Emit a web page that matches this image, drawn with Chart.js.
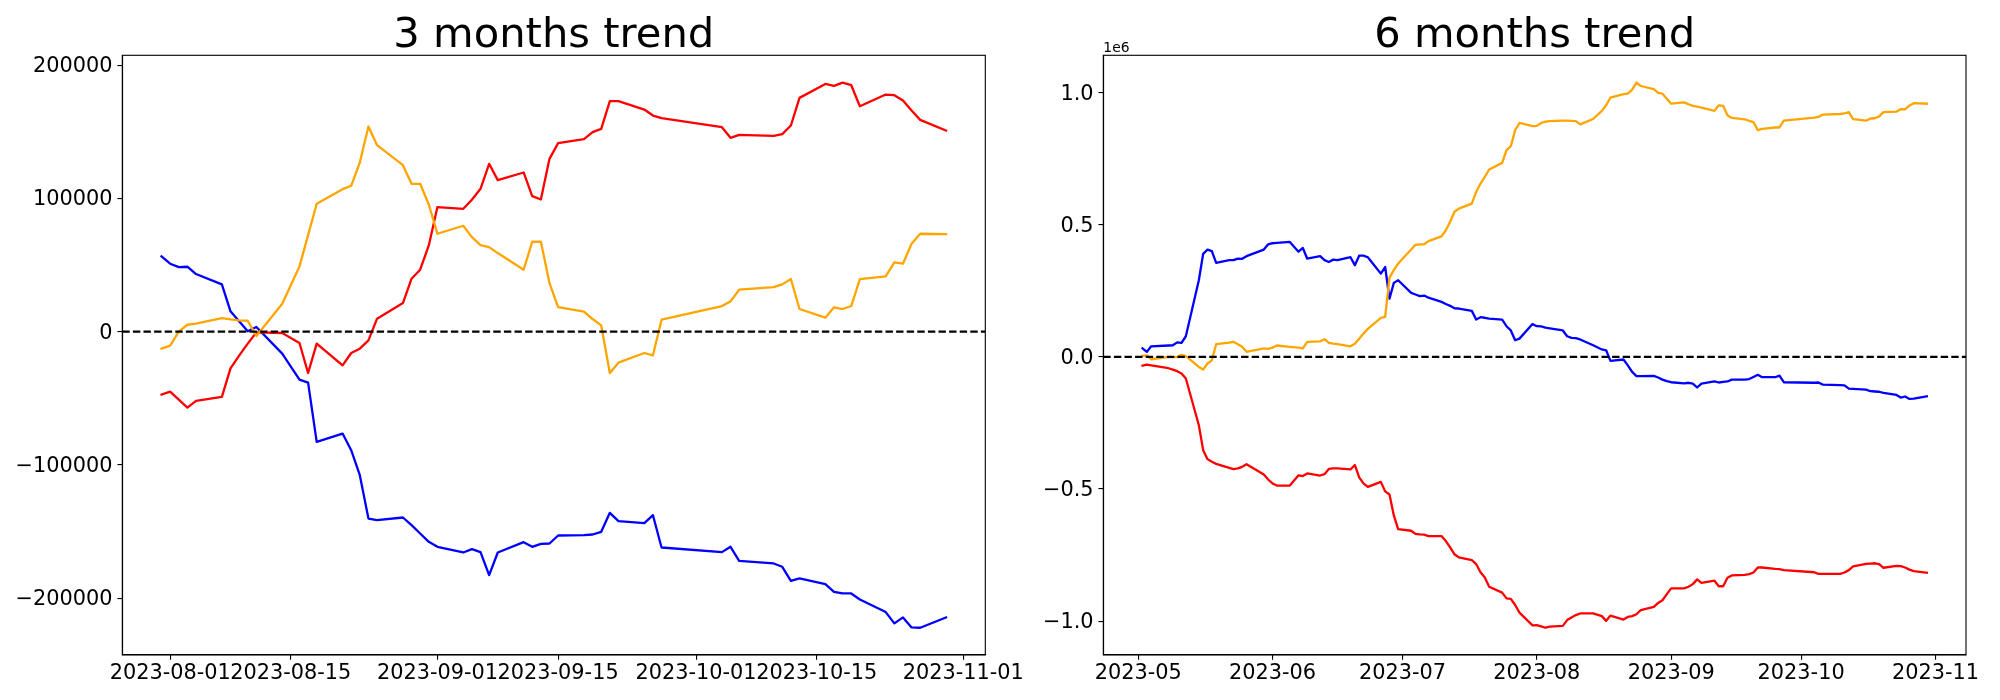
<!DOCTYPE html>
<html><head><meta charset="utf-8">
<script src="https://cdn.jsdelivr.net/npm/chart.js@4.4.0/dist/chart.umd.min.js"></script>
<style>
html,body{margin:0;padding:0;background:#fff;}
#wrap{position:relative;width:2000px;height:700px;overflow:hidden;background:#fff;}
canvas{position:absolute;top:0;}
</style></head><body>
<div id="wrap">
<canvas id="c6" width="1000" height="700" style="left:1000px"></canvas>
<canvas id="c3" width="1060" height="700" style="left:0"></canvas>
</div>
<script>
// ---------- 3 months ----------
const title3 = '3 months trend';
const dates3 = ['2023-07-31','2023-08-01','2023-08-02','2023-08-03','2023-08-04','2023-08-07','2023-08-08','2023-08-09','2023-08-10','2023-08-11',
'2023-08-14','2023-08-16','2023-08-17','2023-08-18','2023-08-21','2023-08-22','2023-08-23','2023-08-24','2023-08-25','2023-08-28',
'2023-08-29','2023-08-30','2023-08-31','2023-09-01','2023-09-04','2023-09-05','2023-09-06','2023-09-07','2023-09-08','2023-09-11',
'2023-09-12','2023-09-13','2023-09-14','2023-09-15','2023-09-18','2023-09-19','2023-09-20','2023-09-21','2023-09-22','2023-09-25',
'2023-09-26','2023-09-27','2023-10-04','2023-10-05','2023-10-06','2023-10-10','2023-10-11','2023-10-12','2023-10-13','2023-10-16',
'2023-10-17','2023-10-18','2023-10-19','2023-10-20','2023-10-23','2023-10-24','2023-10-25','2023-10-26','2023-10-27','2023-10-30'];
const blue3 = [56500,51000,48500,48750,43250,35500,15250,7750,250,3500,
-16500,-36000,-38250,-82750,-76500,-89000,-107750,-140250,-141500,-139500,
-145250,-151500,-157750,-161500,-165750,-163250,-165500,-182750,-165750,-158000,
-161500,-159250,-159000,-153000,-152750,-152250,-150250,-136000,-142250,-143750,
-137750,-162000,-165500,-161500,-172000,-174000,-176500,-187000,-185250,-189500,
-195250,-196500,-196500,-201000,-210500,-219000,-214500,-222000,-222250,-214500];
const orange3 = [-12750,-10500,0,5200,6000,10200,9200,8500,8200,-3200,
21000,49000,72500,96000,107000,109500,127000,154000,140000,125000,
111000,111000,95500,73500,79500,71000,65000,63500,59000,46500,
67500,67500,36500,18500,15000,9500,4750,-31000,-23250,-16000,
-17750,9000,19250,22750,31500,33500,35500,39500,17000,10500,
18250,17000,19250,39500,41500,52000,51000,66000,73500,73250];
const red3 = [-47250,-45000,-51000,-57000,-52000,-49000,-27500,-18000,-9000,-500,
-1000,-8500,-31000,-9000,-25250,-16000,-12750,-6500,9750,21500,
39750,46500,64750,93500,92250,99000,107250,126000,113750,119500,
101750,99250,129750,141500,144500,149750,152250,173000,173000,166750,
162250,160250,153500,145500,147750,147000,148250,154750,175500,186000,
184500,187000,185000,169250,178000,177500,173500,166000,159000,151000];
const xTicks3 = ['2023-08-01','2023-08-15','2023-09-01','2023-09-15','2023-10-01','2023-10-15','2023-11-01'];
const yTicks3 = [-200000,-100000,0,100000,200000];
const yLabels3 = ['\u2212200000','\u2212100000','0','100000','200000'];

// ---------- 6 months ----------
const title6 = '6 months trend';
const dates6 = ['2023-05-02','2023-05-03','2023-05-04','2023-05-08','2023-05-09','2023-05-10','2023-05-11','2023-05-12','2023-05-15','2023-05-16',
'2023-05-17','2023-05-18','2023-05-19','2023-05-22','2023-05-23','2023-05-24','2023-05-25','2023-05-26','2023-05-30','2023-05-31',
'2023-06-01','2023-06-02','2023-06-05','2023-06-07','2023-06-08','2023-06-09','2023-06-12','2023-06-13','2023-06-14','2023-06-15',
'2023-06-16','2023-06-19','2023-06-20','2023-06-21','2023-06-22','2023-06-23','2023-06-26','2023-06-27','2023-06-28','2023-06-29',
'2023-06-30','2023-07-03','2023-07-04','2023-07-05','2023-07-06','2023-07-07','2023-07-10','2023-07-11','2023-07-12','2023-07-13',
'2023-07-14','2023-07-17','2023-07-18','2023-07-19','2023-07-20','2023-07-21','2023-07-24','2023-07-25','2023-07-26','2023-07-27',
'2023-07-28','2023-07-31','2023-08-01','2023-08-02','2023-08-03','2023-08-04','2023-08-07','2023-08-08','2023-08-09','2023-08-10',
'2023-08-11','2023-08-14','2023-08-16','2023-08-17','2023-08-18','2023-08-21','2023-08-22','2023-08-23','2023-08-24','2023-08-25',
'2023-08-28','2023-08-29','2023-08-30','2023-08-31','2023-09-01','2023-09-04','2023-09-05','2023-09-06','2023-09-07','2023-09-08',
'2023-09-11','2023-09-12','2023-09-13','2023-09-14','2023-09-15','2023-09-18','2023-09-19','2023-09-20','2023-09-21','2023-09-22',
'2023-09-25','2023-09-26','2023-09-27','2023-10-04','2023-10-05','2023-10-06','2023-10-10','2023-10-11','2023-10-12','2023-10-13',
'2023-10-16','2023-10-17','2023-10-18','2023-10-19','2023-10-20','2023-10-23','2023-10-24','2023-10-25','2023-10-26','2023-10-27',
'2023-10-30'];
const blue6 = [32000,19000,40000,43000,44000,55000,53000,78000,290000,390000,
406000,400000,356000,366000,366000,372000,371000,381000,406000,426000,
430000,431000,435000,398000,412000,372000,381000,366000,359000,368000,
366000,377000,347000,383000,383000,377000,315000,340000,220000,280000,
290000,242000,236000,230000,232000,224000,208000,200000,193000,184000,
183000,174000,141000,150000,148000,145000,141000,116000,100000,63000,
69000,124000,116000,115000,111000,108000,100000,78000,72000,71000,
66000,44000,28000,25000,-15000,-10000,-32000,-57000,-73000,-73000,
-72000,-78000,-86000,-92000,-96000,-100000,-98000,-101000,-116000,-101000,
-93000,-97000,-95000,-93000,-86000,-86000,-84000,-76000,-68000,-77000,
-77000,-71000,-96000,-98000,-97000,-105000,-107000,-108000,-120000,-121000,
-124000,-130000,-131000,-132000,-136000,-144000,-154000,-150000,-159000,-158000,
-149000];
const orange6 = [4000,6000,-9000,0,-1000,-1000,8000,3000,-38000,-48000,
-25000,-13000,48000,54000,57000,48000,38000,19000,32000,30000,
35000,43000,38000,35000,32000,57000,59000,67000,53000,50000,
48000,40000,50000,69000,88000,106000,148000,151000,300000,328000,
353000,406000,424000,426000,426000,438000,456000,479000,511000,549000,
561000,580000,624000,656000,681000,709000,734000,782000,797000,858000,
885000,873000,874000,885000,890000,892000,894000,894000,893000,892000,
880000,900000,931000,952000,981000,994000,996000,1011000,1038000,1025000,
1013000,999000,996000,977000,958000,963000,956000,950000,947000,943000,
931000,952000,950000,914000,904000,899000,893000,888000,858000,863000,
868000,868000,894000,905000,908000,917000,919000,921000,926000,900000,
894000,902000,903000,910000,926000,928000,937000,937000,951000,960000,
958000];
const red6 = [-33000,-29000,-32000,-43000,-48000,-54000,-63000,-82000,-259000,-353000,
-387000,-397000,-405000,-420000,-425000,-422000,-416000,-406000,-445000,-464000,
-479000,-487000,-487000,-448000,-451000,-441000,-449000,-444000,-424000,-422000,
-422000,-426000,-409000,-456000,-479000,-492000,-473000,-509000,-521000,-600000,
-652000,-658000,-670000,-672000,-673000,-678000,-678000,-697000,-721000,-747000,
-759000,-769000,-784000,-815000,-835000,-870000,-892000,-914000,-916000,-939000,
-968000,-1016000,-1015000,-1020000,-1025000,-1021000,-1018000,-996000,-986000,-977000,
-971000,-971000,-981000,-999000,-979000,-994000,-984000,-981000,-974000,-958000,
-946000,-931000,-921000,-898000,-876000,-876000,-870000,-860000,-842000,-855000,
-847000,-868000,-868000,-836000,-827000,-825000,-822000,-816000,-797000,-797000,
-802000,-803000,-807000,-815000,-821000,-821000,-821000,-816000,-807000,-793000,
-783000,-782000,-781000,-784000,-798000,-791000,-792000,-797000,-805000,-811000,
-817000];
const xTicks6 = ['2023-05','2023-06','2023-07','2023-08','2023-09','2023-10','2023-11'];
const yTicks6 = [-1000000,-500000,0,500000,1000000];
const yLabels6 = ['\u22121.0','\u22120.5','0.0','0.5','1.0'];
const offsetText6 = '1e6';

const zeroLevel = 0;
const colors = {blue:'#0000ff', orange:'#ffa500', red:'#ff0000'};

// ---------- helpers ----------
const toDay = s => Date.UTC(+s.slice(0,4), +s.slice(5,7)-1, s.length > 7 ? +s.slice(8,10) : 1) / 86400000;
function margins(vals){
  const mn = Math.min(...vals), mx = Math.max(...vals), r = mx - mn;
  return [mn - 0.05*r, mx + 0.05*r];
}
const FONT = 'DejaVu Sans';
Chart.defaults.font.family = FONT;

function makeChart(id, o){
  const xs = o.dates.map(toDay);
  const [xmin, xmax] = margins(xs);
  const [ymin, ymax] = margins([...o.blue, ...o.orange, ...o.red]);
  const mk = (vals, color) => ({
    data: vals.map((v,i) => ({x: xs[i], y: v})),
    borderColor: color, backgroundColor: color, borderWidth: 2.3,
    pointRadius: 0, pointHoverRadius: 0, tension: 0, fill: false,
    borderJoinStyle: 'round', borderCapStyle: 'square'
  });
  const tickFont = {family: FONT, size: 20.83};
  const gridOpts = {display: true, drawOnChartArea: false, drawTicks: true, tickLength: 4.86,
                    color: '#000', lineWidth: 1.1, tickColor: '#000', tickWidth: 1.1};
  const borderOpts = {display: true, color: '#000', width: 1.1};
  const decor = {
    id: 'decor',
    afterDatasetsDraw(chart){
      const {ctx, chartArea: a, scales} = chart;
      const y0 = scales.y.getPixelForValue(zeroLevel);
      ctx.save();
      ctx.beginPath(); ctx.rect(a.left, a.top, a.right - a.left, a.bottom - a.top); ctx.clip();
      ctx.setLineDash([7.4, 3.2]); ctx.lineWidth = 2.1; ctx.strokeStyle = '#000';
      ctx.beginPath(); ctx.moveTo(a.left, y0); ctx.lineTo(a.right, y0); ctx.stroke();
      ctx.restore();
    },
    afterDraw(chart){
      const {ctx, chartArea: a} = chart;
      ctx.save();
      ctx.strokeStyle = '#000'; ctx.lineWidth = 1.1; ctx.setLineDash([]);
      ctx.strokeRect(a.left, a.top, a.right - a.left, a.bottom - a.top);
      ctx.fillStyle = '#000';
      ctx.font = '41.67px "' + FONT + '"';
      ctx.textAlign = 'center'; ctx.textBaseline = 'alphabetic';
      ctx.fillText(o.title, (a.left + a.right) / 2, a.top - 8.33);
      if (o.offsetText){
        ctx.font = '13.89px "' + FONT + '"';
        ctx.textAlign = 'left';
        ctx.fillText(o.offsetText, a.left, a.top - 3.6);
      }
      ctx.restore();
    }
  };
  return new Chart(document.getElementById(id), {
    type: 'line',
    data: {datasets: [mk(o.orange, colors.orange), mk(o.red, colors.red), mk(o.blue, colors.blue)]},
    options: {
      responsive: false, animation: false, devicePixelRatio: 1,
      events: [],
      layout: {padding: {left: 0, right: o.padRight, top: 55.3, bottom: 0}},
      plugins: {legend: {display: false}, tooltip: {enabled: false}, title: {display: false}},
      scales: {
        x: {
          type: 'linear', min: xmin, max: xmax, bounds: 'data', offset: false,
          afterBuildTicks: s => { s.ticks = o.xTicks.map(t => ({value: toDay(t)})); },
          afterFit: s => { s.height = 45; s.paddingLeft = 0; s.paddingRight = 0; },
          ticks: {autoSkip: false, maxRotation: 0, minRotation: 0, padding: 1.7, color: '#000',
                  font: tickFont, callback: (v, i) => o.xTicks[i]},
          grid: gridOpts, border: borderOpts
        },
        y: {
          type: 'linear', min: ymin, max: ymax, bounds: 'data',
          afterBuildTicks: s => { s.ticks = o.yTicks.map(v => ({value: v})); },
          afterFit: s => { s.width = o.yAxisWidth; s.paddingTop = 0; s.paddingBottom = 0; },
          ticks: {padding: 4.86, labelOffset: 1.5, color: '#000', font: tickFont, callback: (v, i) => o.yLabels[i]},
          grid: gridOpts, border: borderOpts
        }
      }
    },
    plugins: [decor]
  });
}

makeChart('c3', {title: title3, dates: dates3, blue: blue3, orange: orange3, red: red3,
  xTicks: xTicks3, yTicks: yTicks3, yLabels: yLabels3, yAxisWidth: 122.3, padRight: 1060 - 985.3});
makeChart('c6', {title: title6, dates: dates6, blue: blue6, orange: orange6, red: red6,
  xTicks: xTicks6, yTicks: yTicks6, yLabels: yLabels6, offsetText: offsetText6,
  yAxisWidth: 103.3, padRight: 34});
</script>
</body></html>
